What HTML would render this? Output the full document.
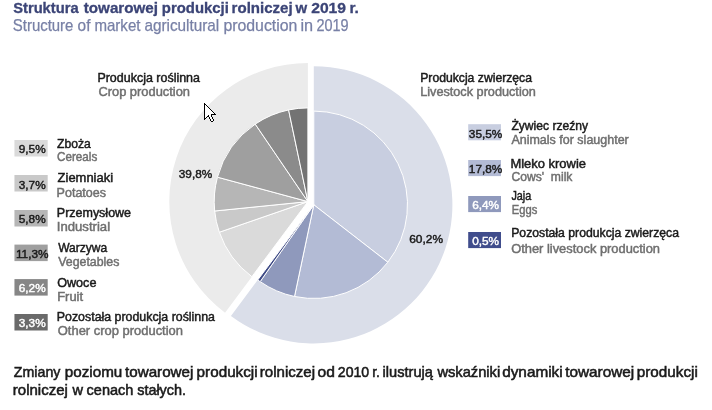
<!DOCTYPE html>
<html><head><meta charset="utf-8"><style>
html,body{margin:0;padding:0;background:#fff;width:712px;height:410px;overflow:hidden}
svg{display:block;will-change:transform}
text{font-family:"Liberation Sans",Arial,sans-serif;white-space:pre}
.c{text-anchor:middle}
</style></head><body>
<svg width="712" height="410" viewBox="0 0 712 410">
<path d="M313.80,204.80L313.80,66.20A138.6,138.6 0 1 1 230.93,315.90Z" fill="#dadee9"/><path d="M307.90,201.60L225.03,312.70A138.6,138.6 0 0 1 307.90,63.00Z" fill="#ebebeb"/><path d="M313.80,204.80L313.80,111.10A93.7,93.7 0 0 1 387.84,262.23Z" fill="#c8cee0" stroke="#fff" stroke-width="1" stroke-linejoin="round"/><path d="M313.80,204.80L387.84,262.23A93.7,93.7 0 0 1 294.51,296.49Z" fill="#b3bbd5" stroke="#fff" stroke-width="1" stroke-linejoin="round"/><path d="M313.80,204.80L294.51,296.49A93.7,93.7 0 0 1 260.16,281.63Z" fill="#8f99bc" stroke="#fff" stroke-width="1" stroke-linejoin="round"/><path d="M313.80,204.80L260.16,281.63A93.7,93.7 0 0 1 257.78,279.91Z" fill="#3f4b86" stroke="#fff" stroke-width="1" stroke-linejoin="round"/><path d="M307.90,201.60L251.88,276.71A93.7,93.7 0 0 1 219.35,232.23Z" fill="#dadada" stroke="#fff" stroke-width="1" stroke-linejoin="round"/><path d="M307.90,201.60L219.35,232.23A93.7,93.7 0 0 1 214.67,211.00Z" fill="#c9c9c9" stroke="#fff" stroke-width="1" stroke-linejoin="round"/><path d="M307.90,201.60L214.67,211.00A93.7,93.7 0 0 1 217.44,177.16Z" fill="#b6b6b6" stroke="#fff" stroke-width="1" stroke-linejoin="round"/><path d="M307.90,201.60L217.44,177.16A93.7,93.7 0 0 1 255.23,124.10Z" fill="#9f9f9f" stroke="#fff" stroke-width="1" stroke-linejoin="round"/><path d="M307.90,201.60L255.23,124.10A93.7,93.7 0 0 1 288.61,109.91Z" fill="#8b8b8b" stroke="#fff" stroke-width="1" stroke-linejoin="round"/><path d="M307.90,201.60L288.61,109.91A93.7,93.7 0 0 1 307.90,107.90Z" fill="#737373" stroke="#fff" stroke-width="1" stroke-linejoin="round"/>
<rect x="14.45" y="140.0" width="33.25" height="16.5" fill="#dadada"/><rect x="14.45" y="175.0" width="33.25" height="16.5" fill="#c9c9c9"/><rect x="14.45" y="210.0" width="33.25" height="16.5" fill="#b6b6b6"/><rect x="14.45" y="244.6" width="33.25" height="16.5" fill="#9f9f9f"/><rect x="14.45" y="279.1" width="33.25" height="16.5" fill="#868686"/><rect x="14.45" y="314.0" width="33.25" height="16.5" fill="#6a6a6a"/><rect x="468.2" y="124.2" width="32.8" height="16.1" fill="#c8cee0"/><rect x="468.2" y="160.0" width="32.8" height="16.1" fill="#b3bbd5"/><rect x="468.2" y="196.0" width="32.8" height="16.1" fill="#8f99bc"/><rect x="468.2" y="232.0" width="32.8" height="16.1" fill="#404d8c"/>
<g shape-rendering="crispEdges"><path d="M205,105h1v1h-1zM205,106h1v1h-1zM206,106h1v1h-1zM205,107h1v1h-1zM206,107h1v1h-1zM207,107h1v1h-1zM205,108h1v1h-1zM206,108h1v1h-1zM207,108h1v1h-1zM208,108h1v1h-1zM205,109h1v1h-1zM206,109h1v1h-1zM207,109h1v1h-1zM208,109h1v1h-1zM209,109h1v1h-1zM205,110h1v1h-1zM206,110h1v1h-1zM207,110h1v1h-1zM208,110h1v1h-1zM209,110h1v1h-1zM210,110h1v1h-1zM205,111h1v1h-1zM206,111h1v1h-1zM207,111h1v1h-1zM208,111h1v1h-1zM209,111h1v1h-1zM210,111h1v1h-1zM211,111h1v1h-1zM205,112h1v1h-1zM206,112h1v1h-1zM207,112h1v1h-1zM208,112h1v1h-1zM209,112h1v1h-1zM210,112h1v1h-1zM211,112h1v1h-1zM212,112h1v1h-1zM205,113h1v1h-1zM206,113h1v1h-1zM207,113h1v1h-1zM208,113h1v1h-1zM209,113h1v1h-1zM210,113h1v1h-1zM211,113h1v1h-1zM212,113h1v1h-1zM213,113h1v1h-1zM205,114h1v1h-1zM206,114h1v1h-1zM207,114h1v1h-1zM208,114h1v1h-1zM209,114h1v1h-1zM210,114h1v1h-1zM205,115h1v1h-1zM206,115h1v1h-1zM207,115h1v1h-1zM209,115h1v1h-1zM210,115h1v1h-1zM205,116h1v1h-1zM206,116h1v1h-1zM209,116h1v1h-1zM210,116h1v1h-1zM205,117h1v1h-1zM210,117h1v1h-1zM211,117h1v1h-1zM210,118h1v1h-1zM211,118h1v1h-1zM211,119h1v1h-1zM212,119h1v1h-1zM211,120h1v1h-1zM212,120h1v1h-1z" fill="#fff"/><path d="M204,103h1v1h-1zM204,104h1v1h-1zM205,104h1v1h-1zM204,105h1v1h-1zM206,105h1v1h-1zM204,106h1v1h-1zM207,106h1v1h-1zM204,107h1v1h-1zM208,107h1v1h-1zM204,108h1v1h-1zM209,108h1v1h-1zM204,109h1v1h-1zM210,109h1v1h-1zM204,110h1v1h-1zM211,110h1v1h-1zM204,111h1v1h-1zM212,111h1v1h-1zM204,112h1v1h-1zM213,112h1v1h-1zM204,113h1v1h-1zM214,113h1v1h-1zM204,114h1v1h-1zM211,114h1v1h-1zM212,114h1v1h-1zM213,114h1v1h-1zM214,114h1v1h-1zM215,114h1v1h-1zM204,115h1v1h-1zM208,115h1v1h-1zM211,115h1v1h-1zM204,116h1v1h-1zM207,116h1v1h-1zM208,116h1v1h-1zM211,116h1v1h-1zM204,117h1v1h-1zM206,117h1v1h-1zM209,117h1v1h-1zM212,117h1v1h-1zM204,118h1v1h-1zM205,118h1v1h-1zM209,118h1v1h-1zM212,118h1v1h-1zM204,119h1v1h-1zM210,119h1v1h-1zM213,119h1v1h-1zM210,120h1v1h-1zM213,120h1v1h-1zM211,121h1v1h-1zM212,121h1v1h-1z" fill="#000"/></g>
<text x="13.20" y="12.5" font-size="14.6" fill="#3c4577" stroke="#3c4577" stroke-width="0.3" font-weight="bold" textLength="65.42" lengthAdjust="spacingAndGlyphs">Struktura</text><text x="83.80" y="12.5" font-size="14.6" fill="#3c4577" stroke="#3c4577" stroke-width="0.3" font-weight="bold" textLength="74.21" lengthAdjust="spacingAndGlyphs">towarowej</text><text x="161.80" y="12.5" font-size="14.6" fill="#3c4577" stroke="#3c4577" stroke-width="0.3" font-weight="bold" textLength="67.04" lengthAdjust="spacingAndGlyphs">produkcji</text><text x="231.60" y="12.5" font-size="14.6" fill="#3c4577" stroke="#3c4577" stroke-width="0.3" font-weight="bold" textLength="61.07" lengthAdjust="spacingAndGlyphs">rolniczej</text><text x="295.40" y="12.5" font-size="14.6" fill="#3c4577" stroke="#3c4577" stroke-width="0.3" font-weight="bold" textLength="11.65" lengthAdjust="spacingAndGlyphs">w</text><text x="311.20" y="12.5" font-size="14.6" fill="#3c4577" stroke="#3c4577" stroke-width="0.3" font-weight="bold" textLength="34.85" lengthAdjust="spacingAndGlyphs">2019</text><text x="349.40" y="12.5" font-size="14.6" fill="#3c4577" stroke="#3c4577" stroke-width="0.3" font-weight="bold" textLength="9.48" lengthAdjust="spacingAndGlyphs">r.</text><text x="12.80" y="30.6" font-size="15.7" fill="#7880a6" stroke="#7880a6" stroke-width="0.25" textLength="60.62" lengthAdjust="spacingAndGlyphs">Structure</text><text x="77.60" y="30.6" font-size="15.7" fill="#7880a6" stroke="#7880a6" stroke-width="0.25" textLength="12.83" lengthAdjust="spacingAndGlyphs">of</text><text x="94.40" y="30.6" font-size="15.7" fill="#7880a6" stroke="#7880a6" stroke-width="0.25" textLength="46.06" lengthAdjust="spacingAndGlyphs">market</text><text x="144.40" y="30.6" font-size="15.7" fill="#7880a6" stroke="#7880a6" stroke-width="0.25" textLength="74.84" lengthAdjust="spacingAndGlyphs">agricultural</text><text x="223.40" y="30.6" font-size="15.7" fill="#7880a6" stroke="#7880a6" stroke-width="0.25" textLength="74.05" lengthAdjust="spacingAndGlyphs">production</text><text x="300.40" y="30.6" font-size="15.7" fill="#7880a6" stroke="#7880a6" stroke-width="0.25" textLength="12.69" lengthAdjust="spacingAndGlyphs">in</text><text x="316.40" y="30.6" font-size="15.7" fill="#7880a6" stroke="#7880a6" stroke-width="0.25" textLength="32.22" lengthAdjust="spacingAndGlyphs">2019</text><text x="97.40" y="81.9" font-size="11.9" fill="#1a1a1a" stroke="#1a1a1a" stroke-width="0.45" textLength="102.61" lengthAdjust="spacingAndGlyphs">Produkcja roślinna</text><text x="98.40" y="96" font-size="11.9" fill="#6f6f6f" stroke="#6f6f6f" stroke-width="0.45" textLength="91.61" lengthAdjust="spacingAndGlyphs">Crop production</text><text x="420.20" y="81.7" font-size="11.9" fill="#1a1a1a" stroke="#1a1a1a" stroke-width="0.45" textLength="111.81" lengthAdjust="spacingAndGlyphs">Produkcja zwierzęca</text><text x="420.20" y="95.9" font-size="11.9" fill="#6f6f6f" stroke="#6f6f6f" stroke-width="0.45" textLength="115.63" lengthAdjust="spacingAndGlyphs">Livestock production</text><text x="178.80" y="178.1" font-size="11.7" fill="#1a1a1a" stroke="#1a1a1a" stroke-width="0.45" textLength="33.42" lengthAdjust="spacingAndGlyphs">39,8%</text><text x="409.20" y="242.9" font-size="11.7" fill="#1a1a1a" stroke="#1a1a1a" stroke-width="0.45" textLength="33.82" lengthAdjust="spacingAndGlyphs">60,2%</text><text x="57.00" y="147.6" font-size="11.9" fill="#1a1a1a" stroke="#1a1a1a" stroke-width="0.45" textLength="33.85" lengthAdjust="spacingAndGlyphs">Zboża</text><text x="57.00" y="161.4" font-size="11.9" fill="#6f6f6f" stroke="#6f6f6f" stroke-width="0.45" textLength="40.24" lengthAdjust="spacingAndGlyphs">Cereals</text><text x="57.60" y="182" font-size="11.9" fill="#1a1a1a" stroke="#1a1a1a" stroke-width="0.45" textLength="55.44" lengthAdjust="spacingAndGlyphs">Ziemniaki</text><text x="56.60" y="196.5" font-size="11.9" fill="#6f6f6f" stroke="#6f6f6f" stroke-width="0.45" textLength="49.42" lengthAdjust="spacingAndGlyphs">Potatoes</text><text x="56.80" y="217" font-size="11.9" fill="#1a1a1a" stroke="#1a1a1a" stroke-width="0.45" textLength="74.26" lengthAdjust="spacingAndGlyphs">Przemysłowe</text><text x="56.80" y="231" font-size="11.9" fill="#6f6f6f" stroke="#6f6f6f" stroke-width="0.45" textLength="53.26" lengthAdjust="spacingAndGlyphs">Industrial</text><text x="58.20" y="252.2" font-size="11.9" fill="#1a1a1a" stroke="#1a1a1a" stroke-width="0.45" textLength="49.02" lengthAdjust="spacingAndGlyphs">Warzywa</text><text x="58.20" y="265.7" font-size="11.9" fill="#6f6f6f" stroke="#6f6f6f" stroke-width="0.45" textLength="61.21" lengthAdjust="spacingAndGlyphs">Vegetables</text><text x="57.20" y="287.1" font-size="11.9" fill="#1a1a1a" stroke="#1a1a1a" stroke-width="0.45" textLength="39.24" lengthAdjust="spacingAndGlyphs">Owoce</text><text x="57.20" y="300.9" font-size="11.9" fill="#6f6f6f" stroke="#6f6f6f" stroke-width="0.45" textLength="25.86" lengthAdjust="spacingAndGlyphs">Fruit</text><text x="56.80" y="321.1" font-size="11.9" fill="#1a1a1a" stroke="#1a1a1a" stroke-width="0.45" textLength="158.21" lengthAdjust="spacingAndGlyphs">Pozostała produkcja roślinna</text><text x="57.80" y="335.4" font-size="11.9" fill="#6f6f6f" stroke="#6f6f6f" stroke-width="0.45" textLength="125.21" lengthAdjust="spacingAndGlyphs">Other crop production</text><text x="511.40" y="130" font-size="11.9" fill="#1a1a1a" stroke="#1a1a1a" stroke-width="0.45" textLength="76.62" lengthAdjust="spacingAndGlyphs">Żywiec rzeźny</text><text x="511.40" y="144.3" font-size="11.9" fill="#6f6f6f" stroke="#6f6f6f" stroke-width="0.45" textLength="117.41" lengthAdjust="spacingAndGlyphs">Animals for slaughter</text><text x="510.40" y="167.5" font-size="11.9" fill="#1a1a1a" stroke="#1a1a1a" stroke-width="0.45" textLength="75.64" lengthAdjust="spacingAndGlyphs">Mleko krowie</text><text x="511.40" y="181.4" font-size="11.9" fill="#6f6f6f" stroke="#6f6f6f" stroke-width="0.45" textLength="61.03" lengthAdjust="spacingAndGlyphs">Cows'  milk</text><text x="511.40" y="200" font-size="11.9" fill="#1a1a1a" stroke="#1a1a1a" stroke-width="0.45" textLength="19.84" lengthAdjust="spacingAndGlyphs">Jaja</text><text x="511.80" y="214" font-size="11.9" fill="#6f6f6f" stroke="#6f6f6f" stroke-width="0.45" textLength="25.46" lengthAdjust="spacingAndGlyphs">Eggs</text><text x="511.20" y="237.4" font-size="11.9" fill="#1a1a1a" stroke="#1a1a1a" stroke-width="0.45" textLength="167.81" lengthAdjust="spacingAndGlyphs">Pozostała produkcja zwierzęca</text><text x="511.20" y="252.8" font-size="11.9" fill="#6f6f6f" stroke="#6f6f6f" stroke-width="0.45" textLength="148.82" lengthAdjust="spacingAndGlyphs">Other livestock production</text><text x="13.80" y="377.2" font-size="15" fill="#1a1a1a" stroke="#1a1a1a" stroke-width="0.55" textLength="46.61" lengthAdjust="spacingAndGlyphs">Zmiany</text><text x="64.80" y="377.2" font-size="15" fill="#1a1a1a" stroke="#1a1a1a" stroke-width="0.55" textLength="57.47" lengthAdjust="spacingAndGlyphs">poziomu</text><text x="125.00" y="377.2" font-size="15" fill="#1a1a1a" stroke="#1a1a1a" stroke-width="0.55" textLength="68.41" lengthAdjust="spacingAndGlyphs">towarowej</text><text x="196.60" y="377.2" font-size="15" fill="#1a1a1a" stroke="#1a1a1a" stroke-width="0.55" textLength="61.05" lengthAdjust="spacingAndGlyphs">produkcji</text><text x="259.80" y="377.2" font-size="15" fill="#1a1a1a" stroke="#1a1a1a" stroke-width="0.55" textLength="55.25" lengthAdjust="spacingAndGlyphs">rolniczej</text><text x="317.60" y="377.2" font-size="15" fill="#1a1a1a" stroke="#1a1a1a" stroke-width="0.55" textLength="17.37" lengthAdjust="spacingAndGlyphs">od</text><text x="337.80" y="377.2" font-size="15" fill="#1a1a1a" stroke="#1a1a1a" stroke-width="0.55" textLength="31.42" lengthAdjust="spacingAndGlyphs">2010</text><text x="372.20" y="377.2" font-size="15" fill="#1a1a1a" stroke="#1a1a1a" stroke-width="0.55" textLength="7.79" lengthAdjust="spacingAndGlyphs">r.</text><text x="382.60" y="377.2" font-size="15" fill="#1a1a1a" stroke="#1a1a1a" stroke-width="0.55" textLength="50.41" lengthAdjust="spacingAndGlyphs">ilustrują</text><text x="437.40" y="377.2" font-size="15" fill="#1a1a1a" stroke="#1a1a1a" stroke-width="0.55" textLength="62.81" lengthAdjust="spacingAndGlyphs">wskaźniki</text><text x="502.20" y="377.2" font-size="15" fill="#1a1a1a" stroke="#1a1a1a" stroke-width="0.55" textLength="60.45" lengthAdjust="spacingAndGlyphs">dynamiki</text><text x="565.20" y="377.2" font-size="15" fill="#1a1a1a" stroke="#1a1a1a" stroke-width="0.55" textLength="69.03" lengthAdjust="spacingAndGlyphs">towarowej</text><text x="636.80" y="377.2" font-size="15" fill="#1a1a1a" stroke="#1a1a1a" stroke-width="0.55" textLength="61.03" lengthAdjust="spacingAndGlyphs">produkcji</text><text x="12.80" y="394.6" font-size="15" fill="#1a1a1a" stroke="#1a1a1a" stroke-width="0.55" textLength="55.03" lengthAdjust="spacingAndGlyphs">rolniczej</text><text x="72.40" y="394.6" font-size="15" fill="#1a1a1a" stroke="#1a1a1a" stroke-width="0.55" textLength="10.50" lengthAdjust="spacingAndGlyphs">w</text><text x="86.60" y="394.6" font-size="15" fill="#1a1a1a" stroke="#1a1a1a" stroke-width="0.55" textLength="46.83" lengthAdjust="spacingAndGlyphs">cenach</text><text x="137.20" y="394.6" font-size="15" fill="#1a1a1a" stroke="#1a1a1a" stroke-width="0.55" textLength="48.87" lengthAdjust="spacingAndGlyphs">stałych.</text><text class="c" x="32.2" y="153.0" font-size="11.8" fill="#1a1a1a" stroke="#1a1a1a" stroke-width="0.45">9,5%</text><text class="c" x="32.2" y="188.5" font-size="11.8" fill="#1a1a1a" stroke="#1a1a1a" stroke-width="0.45">3,7%</text><text class="c" x="32.2" y="222.8" font-size="11.8" fill="#1a1a1a" stroke="#1a1a1a" stroke-width="0.45">5,8%</text><text class="c" x="32.2" y="258.4" font-size="11.8" fill="#1a1a1a" stroke="#1a1a1a" stroke-width="0.45">11,3%</text><text class="c" x="32.2" y="292.4" font-size="11.8" fill="#fff" stroke="#fff" stroke-width="0.45">6,2%</text><text class="c" x="32.2" y="327.0" font-size="11.8" fill="#fff" stroke="#fff" stroke-width="0.45">3,3%</text><text class="c" x="485.6" y="137.6" font-size="11.8" fill="#1a1a1a" stroke="#1a1a1a" stroke-width="0.45">35,5%</text><text class="c" x="485.6" y="172.8" font-size="11.8" fill="#1a1a1a" stroke="#1a1a1a" stroke-width="0.45">17,8%</text><text class="c" x="485.6" y="208.6" font-size="11.8" fill="#fff" stroke="#fff" stroke-width="0.45">6,4%</text><text class="c" x="485.6" y="244.8" font-size="11.8" fill="#fff" stroke="#fff" stroke-width="0.45">0,5%</text>
</svg>
</body></html>
